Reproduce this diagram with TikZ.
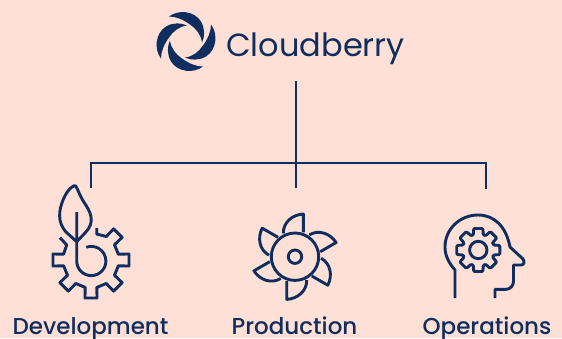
\documentclass[tikz,border=0pt]{standalone}
\usepackage{fontspec}
\setmainfont{Poppins}
\newfontfamily\labelfont{Poppins Medium}
\definecolor{ink}{HTML}{0F2D5E}
\definecolor{blush}{HTML}{FEE0D6}
\tikzset{
  link/.style={draw=ink,line width=1.9pt},
  icon/.style={draw=ink,line width=2.9pt,line join=round},
  caption/.style={text=ink,anchor=base,inner sep=0pt,font=\labelfont\fontsize{23}{24}\selectfont},
}

\begin{document}
\begin{tikzpicture}[x=1pt,y=1pt,yscale=-1]
  \useasboundingbox (0,0) rectangle (562,338);
  \fill[blush] (0,0) rectangle (562,338);

  \foreach \a in {0,90,180,270} {
    \fill[ink,shift={(186,41.5)},rotate=\a]
      (-17,-25) .. controls (-8,-32) and (8,-31) .. (15,-20)
      .. controls (19,-13) and (19,-5) .. (16,1)
      .. controls (15,-7) and (10,-13) .. (4,-17)
      .. controls (-3,-22) and (-10,-25) .. (-17,-25) -- cycle;
  }
  \path
  (226,56) node[anchor=base west,inner sep=0pt,text=ink,font=\fontsize{32}{33}\selectfont](brand) {Cloudberry}
  (90.5,334) node[caption](dev) {Development}
  (294.5,334) node[caption](prod) {Production}
  (487,334) node[caption](ops) {Operations}
  ;

  \path
  (296,81) coordinate(trunk)
  (296,163) coordinate(hub)
  (296,188) coordinate(prodtop)
  (91,188) coordinate(devtop)
  (486,189) coordinate(opstop)
  ;
  \draw[link] (trunk) -- (prodtop);
  \draw[link] (devtop) |- (hub) -| (opstop);

  \begin{scope}[shift={(91,260)}]
    \draw[icon] (5.7,-32) -- (5.7,-26)
      \foreach \a in {-45,0,45,90,135,180} {
        -- ({\a-12}:28) -- ({\a-9}:38.5) -- ({\a+9}:38.5) -- ({\a+12}:28)
      }
      -- (-24.3,-15) -- (-31,-22.3);
  \end{scope}
  \draw[icon] (75.7,186) .. controls (78,190) and (79,193) .. (80,195)
    .. controls (83,202) and (88,207) .. (90,213)
    .. controls (93,222) and (90,228) .. (85,233)
    -- (76.7,241.7) -- (66,232)
    .. controls (57,222) and (59,210) .. (63,200)
    .. controls (66,193) and (69,189) .. (72,187)
    .. controls (73,186) and (75,185) .. (75.7,186) -- cycle;
  \draw[icon] (76.7,212) -- (76.7,261) arc (180:-110:14.6);

  \foreach \a in {0,60,...,300} {
    \draw[icon,shift={(295,256.7)},rotate=\a]
      (8.3,-24.3) -- (8.3,-42.7) .. controls (-3,-42) and (-12,-34) .. (-11.7,-23.3);
  }
  \path[icon] (295,256.7) circle (23.7);
  \path[icon] (295,256.7) circle (6.7);

  \draw[icon] (455,298) -- (455,270) .. controls (449,263) and (445,256) .. (445,247)
    .. controls (445,229) and (460,215) .. (478,215)
    .. controls (494,215) and (506,226) .. (510,247)
    -- (523,259) .. controls (525,262) and (524,265) .. (521,265)
    -- (513.5,265) -- (513.5,281) .. controls (513.5,286) and (510,289.3) .. (506,289.3)
    -- (495,289.3) -- (495,298);
  \begin{scope}[shift={(478.3,250)}]
    \draw[icon,rounded corners=1pt] (-24:16)
      \foreach \a in {0,45,...,315} {
        -- ({\a-18}:16) -- ({\a-12}:22) -- ({\a+12}:22) -- ({\a+18}:16)
      } -- cycle;
    \path[icon] (0,0) circle (8.7);
  \end{scope}
\end{tikzpicture}
\end{document}
